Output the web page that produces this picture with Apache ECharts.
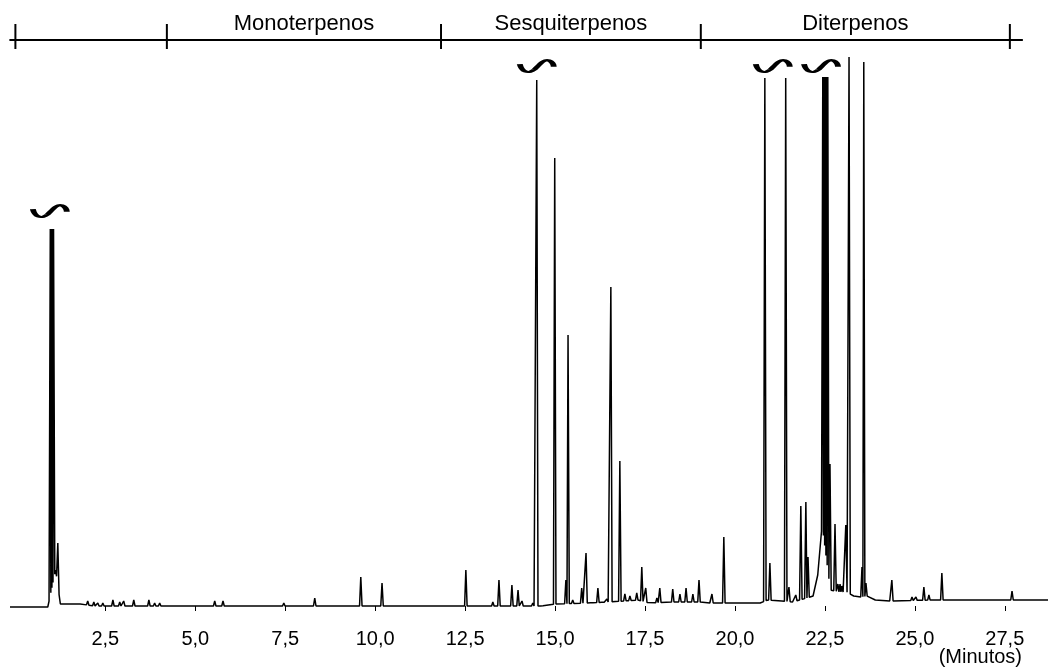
<!DOCTYPE html>
<html>
<head>
<meta charset="utf-8">
<title>Cromatograma</title>
<script src="https://cdn.jsdelivr.net/npm/echarts@6/dist/echarts.min.js"></script>
<style>
  html, body { margin: 0; padding: 0; background: #fff; }
  #chart { width: 1048px; height: 669px; }
</style>
</head>
<body>
<div id="chart"></div>
<script>
// Retention time (min) and apex response (a.u.) of each resolved peak, in elution order
const peakTimes = [
  0.97, 1.00, 1.03, 1.06, 1.179,
  2.01, 2.18, 2.29, 2.43, 2.71, 2.90, 3.01, 3.29, 3.71, 3.87, 4.01, 4.38,
  5.54, 5.77, 7.46, 8.32, 9.60, 9.94, 10.19, 11.21,
  12.52, 13.27, 13.44, 13.80, 13.97, 14.08, 14.38, 14.49, 14.63,
  14.99, 15.30, 15.36, 15.49, 15.74, 15.86, 16.02, 16.19, 16.33, 16.44,
  16.55, 16.80, 16.94, 17.08, 17.27, 17.41, 17.52, 17.83, 17.91,
  18.27, 18.47, 18.64, 18.83, 19.00, 19.36, 19.69, 20.00,
  20.83, 20.97, 21.41, 21.50, 21.69, 21.83, 21.97, 22.03,
  22.44, 22.475, 22.51, 22.545, 22.58, 22.64, 22.78, 22.86, 22.92, 22.97,
  23.08, 23.17, 23.53, 23.58, 23.64,
  24.36, 24.92, 25.03, 25.25, 25.39, 25.75, 26.61, 27.45, 27.70
];
const peakTops = [
  377, 377, 377, 377, 63,
  5, 4, 3, 3, 6, 4, 5, 6, 6, 3, 3, 2,
  5, 5, 3, 8, 29, 2, 23, 1,
  36, 4, 26, 21, 16, 5, 3, 526, 2,
  448, 26, 271, 6, 18, 53, 5, 18, 5, 7,
  319, 145, 12, 10, 13, 39, 18, 8, 18,
  17, 12, 18, 12, 26, 12, 69, 4,
  528, 43, 528, 19, 11, 100, 104, 49,
  529, 529, 529, 529, 529, 142, 82, 22, 22, 20,
  81, 549, 39, 544, 23,
  26, 9, 9, 19, 11, 33, 8, 8, 15
];

// Baseline drift of the detector trace: [time (min), level (a.u.)]
const baseTimes = [
  -0.15, 0.90, 1.12, 1.25, 1.80, 2.20, 13.0, 14.6, 15.0, 15.9, 16.5, 17.3, 17.6,
  18.3, 19.0, 19.3, 20.0, 20.7, 20.9, 21.3, 21.6, 22.0, 22.17, 22.3, 22.42,
  22.65, 22.9, 23.1, 23.3, 23.5, 23.7, 23.9, 24.3, 25.5, 28.7
];
const baseLevels = [
  -1, -1, 36, 2, 2, 0, 0, 0, 2, 3, 4, 6, 3,
  4, 4, 3, 3, 3, 6, 5, 4, 8, 10, 31, 81,
  16, 14, 14, 10, 9, 10, 6, 5, 6, 6
];

// Off-scale peaks, marked with a break sign above the cut
const breakTimes = [0.956, 14.49, 21.05, 22.39];
const breakLevels = [395, 540, 540, 540];

// Compound classes by elution window
const sectionBounds = [0, 4.21, 11.83, 19.05, 27.64];
const sectionNames = ['', 'Monoterpenos', 'Sesquiterpenos', 'Diterpenos'];

// Time axis
const tickValues = [2.5, 5, 7.5, 10, 12.5, 15, 17.5, 20, 22.5, 25, 27.5];
const tickLabels = ['2,5', '5,0', '7,5', '10,0', '12,5', '15,0', '17,5', '20,0', '22,5', '25,0', '27,5'];
const axisUnit = '(Minutos)';

// ---- trace construction ----
const PEAK_HALF_WIDTH = 0.035; // min
const BRACKET_LEVEL = 566;

function baselineAt(t) {
  for (let i = 1; i < baseTimes.length; i++) {
    if (t <= baseTimes[i]) {
      const t0 = baseTimes[i - 1], t1 = baseTimes[i];
      const f = (t - t0) / (t1 - t0);
      return baseLevels[i - 1] + f * (baseLevels[i] - baseLevels[i - 1]);
    }
  }
  return baseLevels[baseLevels.length - 1];
}

const trace = [];
const spans = [];
peakTimes.forEach((t, i) => {
  const prev = i > 0 ? peakTimes[i - 1] : -Infinity;
  const next = i < peakTimes.length - 1 ? peakTimes[i + 1] : Infinity;
  const a = Math.max(t - PEAK_HALF_WIDTH, (prev + t) / 2);
  const b = Math.min(t + PEAK_HALF_WIDTH, (t + next) / 2);
  trace.push([a, baselineAt(a)], [t, peakTops[i]], [b, baselineAt(b)]);
  spans.push([a, b]);
});
baseTimes.forEach((t, i) => {
  if (!spans.some(([a, b]) => t > a && t < b)) trace.push([t, baseLevels[i]]);
});
trace.sort((p, q) => p[0] - q[0]);

const sections = sectionNames.map((n, i) => [sectionBounds[i], sectionBounds[i + 1], n]);
const breaks = breakTimes.map((t, i) => [t, breakLevels[i]]);

const FONT = '"Liberation Sans", Arial, Helvetica, sans-serif';

const chart = echarts.init(document.getElementById('chart'), null, { renderer: 'canvas' });
chart.setOption({
  animation: false,
  backgroundColor: '#fff',
  grid: { left: 10, right: 0, top: 22, bottom: 47, containLabel: false, outerBoundsMode: 'none' },
  xAxis: {
    type: 'value',
    min: -0.15,
    max: 28.7,
    axisLine: { show: false },
    splitLine: { show: false },
    axisTick: {
      show: true, inside: false, length: 5,
      customValues: tickValues,
      lineStyle: { color: '#000', width: 1 }
    },
    axisLabel: {
      show: true, margin: 7,
      customValues: tickValues,
      formatter: v => {
        const k = tickValues.findIndex(x => Math.abs(x - v) < 1e-6);
        return k >= 0 ? tickLabels[k] : '';
      },
      color: '#000', fontSize: 20, fontFamily: FONT
    }
  },
  yAxis: { type: 'value', min: -16, max: 584, show: false },
  graphic: [{
    type: 'text', right: 26, bottom: 2,
    style: { text: axisUnit, fill: '#000', font: '20px ' + FONT }
  }],
  series: [
    {
      type: 'line',
      data: trace,
      showSymbol: false,
      symbol: 'none',
      clip: true,
      lineStyle: { color: '#000', width: 1.5 },
      z: 3
    },
    {
      type: 'scatter',
      data: breaks,
      symbol: 'path://M1,4 C3,10 9,12 15,8 C20,4 24,0 28,1 C31,2 33,4 33,6',
      symbolSize: [34, 12],
      itemStyle: { color: 'none', borderColor: '#000', borderWidth: 3.5, opacity: 1 },
      z: 4
    },
    {
      type: 'custom',
      data: sections,
      clip: false,
      z: 5,
      renderItem: (params, api) => {
        const s = api.coord([api.value(0), BRACKET_LEVEL]);
        const e = api.coord([api.value(1), BRACKET_LEVEL]);
        const first = params.dataIndex === 0;
        const last = params.dataIndex === sections.length - 1;
        const stroke = { stroke: '#000', lineWidth: 2 };
        const children = [
          { type: 'line', shape: { x1: s[0] - (first ? 6 : 0), y1: s[1], x2: e[0] + (last ? 13 : 0), y2: e[1] }, style: stroke },
          { type: 'line', shape: { x1: s[0], y1: s[1] - 16, x2: s[0], y2: s[1] + 9 }, style: stroke }
        ];
        if (last) {
          children.push({ type: 'line', shape: { x1: e[0], y1: e[1] - 16, x2: e[0], y2: e[1] + 9 }, style: stroke });
        }
        const name = sections[params.dataIndex][2];
        if (name) {
          children.push({
            type: 'text',
            style: {
              text: name, x: (s[0] + e[0]) / 2, y: s[1] - 16,
              align: 'center', verticalAlign: 'middle',
              fill: '#000', font: '22px ' + FONT
            }
          });
        }
        return { type: 'group', children };
      }
    }
  ]
});
</script>
</body>
</html>
